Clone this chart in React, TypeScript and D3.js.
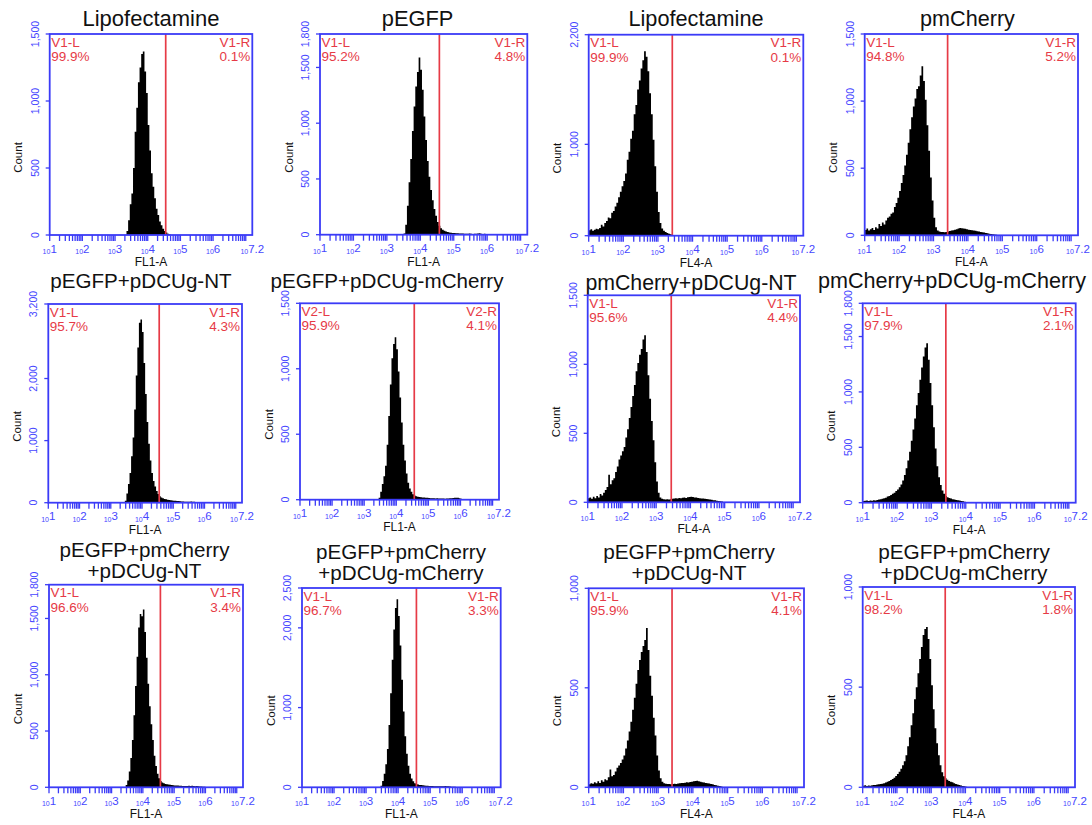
import React from "react";
import * as d3 from "d3";

// histogram bin width, in decades
const BIN = 0.05;

const titles = [
  "Lipofectamine",
  "pEGFP",
  "Lipofectamine",
  "pmCherry",
  "pEGFP+pDCUg-NT",
  "pEGFP+pDCUg-mCherry",
  "pmCherry+pDCUg-NT",
  "pmCherry+pDCUg-mCherry",
  "pEGFP+pmCherry\n+pDCUg-NT",
  "pEGFP+pmCherry\n+pDCUg-mCherry",
  "pEGFP+pmCherry\n+pDCUg-NT",
  "pEGFP+pmCherry\n+pDCUg-mCherry",
];
const channels = ["FL1-A", "FL1-A", "FL4-A", "FL4-A", "FL1-A", "FL1-A", "FL4-A", "FL4-A", "FL1-A", "FL1-A", "FL4-A", "FL4-A"];
const gateNames = ["V1", "V1", "V1", "V1", "V1", "V2", "V1", "V1", "V1", "V1", "V1", "V1"];
const leftPct = ["99.9%", "95.2%", "99.9%", "94.8%", "95.7%", "95.9%", "95.6%", "97.9%", "96.6%", "96.7%", "95.9%", "98.2%"];
const rightPct = ["0.1%", "4.8%", "0.1%", "5.2%", "4.3%", "4.1%", "4.4%", "2.1%", "3.4%", "3.3%", "4.1%", "1.8%"];
const gateExp = [4.55, 4.57, 3.415, 3.41, 4.55, 4.56, 3.44, 3.42, 4.56, 4.57, 3.4, 3.41];
const yTicks = [
  [0, 500, 1000, 1500],
  [0, 500, 1000, 1500, 1800],
  [0, 1000, 2200],
  [0, 500, 1000, 1500],
  [0, 1000, 2000, 3200],
  [0, 500, 1000, 1500],
  [0, 500, 1000, 1500],
  [0, 500, 1000, 1500, 1800],
  [0, 500, 1000, 1500, 1800],
  [0, 1000, 2000, 2500],
  [0, 500, 1000],
  [0, 500, 1000],
];
const xTickExp = ["1", "2", "3", "4", "5", "6", "7.2"];
const xTickVal = [1e1, 1e2, 1e3, 1e4, 1e5, 1e6, Math.pow(10, 7.2)];

// first bin (log10) of each histogram
const startExp = [3.35, 3.5, 1.0, 1.0, 3.45, 3.45, 1.0, 1.0, 3.45, 3.45, 1.0, 1.0];

const counts1 = [30, 110, 230, 310, 500, 770, 950, 1140, 1250, 1350, 1370, 1220, 1060, 820, 630, 460, 360, 275, 195, 150, 100, 72, 46, 30, 18, 10, 5];
const counts2 = [10, 90, 260, 470, 680, 930, 1150, 1330, 1460, 1590, 1480, 1300, 1060, 850, 660, 520, 400, 310, 230, 170, 115, 80, 58, 45, 35, 28, 24, 20, 18, 16, 15, 14, 12, 11, 10, 10, 9, 8, 9, 10, 8, 7, 9, 8, 10, 12, 9, 7, 8, 6, 4, 2];
const counts3 = [60, 70, 55, 65, 75, 70, 85, 120, 100, 140, 160, 200, 190, 250, 270, 320, 360, 420, 480, 540, 600, 680, 830, 920, 1060, 1150, 1330, 1430, 1600, 1700, 1830, 1920, 2020, 1960, 1800, 1560, 1330, 1050, 760, 480, 260, 140, 80, 55, 40, 30, 20, 15, 8];
const counts4 = [40, 50, 35, 45, 55, 40, 60, 50, 85, 70, 95, 80, 110, 130, 140, 160, 170, 210, 240, 280, 330, 390, 450, 520, 600, 690, 790, 880, 960, 1020, 1090, 1110, 1190, 1260, 1150, 1010, 820, 630, 430, 260, 130, 60, 35, 28, 25, 24, 22, 25, 28, 32, 35, 38, 42, 45, 50, 55, 52, 50, 48, 45, 42, 40, 38, 35, 33, 30, 28, 25, 22, 20, 18, 15, 12, 10, 8, 6, 4, 2];
const counts5 = [30, 150, 300, 480, 750, 1050, 1500, 2050, 2500, 2900, 2950, 2750, 2250, 1750, 1300, 950, 680, 480, 350, 260, 190, 140, 105, 85, 70, 60, 55, 48, 42, 40, 35, 32, 30, 28, 26, 24, 20, 18, 16, 15, 14, 16, 18, 15, 14, 12, 10, 12, 9, 8, 7, 8, 5, 4, 2];
const counts6 = [15, 60, 120, 180, 260, 420, 640, 880, 1080, 1190, 1240, 1150, 980, 780, 590, 420, 300, 200, 130, 85, 60, 42, 32, 26, 22, 20, 18, 17, 16, 15, 14, 13, 12, 12, 11, 10, 11, 10, 9, 10, 9, 8, 9, 10, 11, 12, 13, 14, 15, 14, 12, 8, 4, 2];
const counts7 = [30, 35, 25, 40, 30, 45, 35, 60, 50, 70, 90, 110, 200, 130, 160, 175, 220, 260, 310, 340, 370, 400, 470, 530, 610, 690, 770, 850, 950, 1010, 1070, 1110, 1180, 1210, 1090, 920, 750, 590, 450, 290, 150, 70, 35, 25, 22, 20, 22, 20, 22, 25, 28, 30, 28, 32, 30, 33, 35, 32, 36, 38, 40, 38, 35, 34, 32, 30, 28, 27, 25, 24, 22, 20, 18, 15, 14, 12, 10, 8, 5, 2];
const counts8 = [15, 18, 20, 16, 20, 18, 22, 20, 25, 28, 32, 35, 40, 45, 55, 60, 70, 80, 90, 105, 120, 140, 165, 200, 250, 310, 380, 460, 560, 660, 760, 880, 990, 1110, 1220, 1320, 1400, 1440, 1290, 1080, 880, 680, 490, 330, 230, 160, 110, 80, 60, 50, 42, 38, 32, 28, 25, 22, 20, 16, 12, 8, 5, 3, 1];
const counts9 = [20, 60, 140, 260, 420, 640, 900, 1160, 1420, 1540, 1520, 1580, 1380, 1150, 920, 720, 560, 420, 280, 190, 120, 80, 55, 42, 35, 30, 28, 25, 22, 20, 18, 17, 16, 15, 14, 13, 12, 12, 11, 12, 13, 12, 14, 12, 10, 11, 9, 8, 7, 6, 4, 3, 1];
const counts10 = [20, 80, 170, 290, 480, 780, 1180, 1600, 1980, 2250, 2360, 2150, 1780, 1350, 950, 640, 420, 270, 170, 110, 75, 52, 40, 34, 30, 28, 25, 22, 20, 19, 17, 16, 15, 14, 13, 12, 13, 14, 12, 13, 15, 14, 12, 10, 8, 7, 6, 5, 4, 3, 2, 2, 1];
const counts11 = [15, 20, 18, 25, 20, 30, 22, 35, 28, 40, 35, 50, 90, 55, 62, 80, 98, 110, 122, 140, 160, 195, 235, 280, 330, 390, 450, 520, 590, 640, 680, 710, 740, 800, 690, 560, 460, 350, 260, 160, 85, 45, 28, 20, 18, 16, 17, 15, 16, 18, 17, 19, 20, 22, 21, 23, 25, 24, 27, 28, 30, 32, 33, 30, 28, 26, 24, 22, 20, 19, 17, 15, 12, 10, 8, 6, 4, 2];
const counts12 = [8, 10, 7, 9, 8, 10, 12, 11, 14, 15, 17, 18, 20, 24, 28, 32, 36, 42, 48, 56, 66, 78, 92, 110, 130, 160, 205, 250, 310, 370, 440, 500, 570, 640, 700, 760, 790, 800, 740, 640, 510, 390, 295, 220, 160, 110, 75, 55, 45, 38, 32, 28, 25, 20, 17, 14, 12, 9, 7, 5, 3, 2];

const allCounts = [counts1, counts2, counts3, counts4, counts5, counts6, counts7, counts8, counts9, counts10, counts11, counts12];

// panel boxes: [left, right, top, bottom, titleX, titleBaseline, titleSize]
const layout = [
  [49.7, 252.3, 34, 235, 151, 26, 22],
  [320, 527.3, 34, 234.7, 417.5, 26, 21.8],
  [588.7, 803.3, 34.7, 235.7, 696, 26, 21.7],
  [864.7, 1078, 34, 235.3, 967.5, 26, 21.6],
  [48.3, 242, 304, 502.7, 141, 288, 20.6],
  [300, 499, 303.3, 499.7, 387, 288, 20.6],
  [587.7, 800, 295.3, 502.3, 691, 290, 21.3],
  [862.7, 1075.7, 303.3, 502.7, 952, 288, 21.6],
  [49, 243, 584.7, 787.3, 144.5, 578, 20.6],
  [302, 500.7, 588, 787.3, 401, 580, 20.6],
  [588.7, 804, 588.3, 787.3, 689, 580, 20.8],
  [862.7, 1075, 587, 787.3, 964, 580, 20.8],
];

const BLUE = "#3b3bf7";
const BLUE_TEXT = "#4646ff";
const RED = "#e63a46";
const FONT = "'Liberation Sans', Arial, sans-serif";

const minorTicks: number[] = [];
for (let d = 1; d <= 6; d++) for (let m = 1; m <= 9; m++) minorTicks.push(m * Math.pow(10, d));
minorTicks.push(1e7);

function Panel({ i }: { i: number }) {
  const [x0, x1, y0, y1, tx, ty, ts] = layout[i];
  const ticks = yTicks[i];
  const yMax = ticks[ticks.length - 1];
  const x = d3.scaleLog().domain([10, Math.pow(10, 7.2)]).range([x0, x1]);
  const y = d3.scaleLinear().domain([0, yMax]).range([y1, y0]);

  const counts = allCounts[i];
  const pts: [number, number][] = counts.map((c, k) => [Math.pow(10, startExp[i] + k * BIN), c]);
  pts.push([Math.pow(10, startExp[i] + counts.length * BIN), 0]);
  const area = d3
    .area<[number, number]>()
    .x((d) => x(d[0]))
    .y0(y(0))
    .y1((d) => y(d[1]))
    .curve(d3.curveStepAfter);

  const titleLines = titles[i].split("\n");
  const gx = x(Math.pow(10, gateExp[i]));
  const fmt = d3.format(",");

  return (
    <g fontFamily={FONT}>
      {titleLines.map((t, k) => (
        <text key={k} x={tx} y={ty - (titleLines.length - 1 - k) * 21.5} textAnchor="middle" fontSize={ts} fill="#111">
          {t}
        </text>
      ))}
      <path d={area(pts) || ""} fill="#000" />
      <line x1={gx} x2={gx} y1={y0} y2={y1} stroke={RED} strokeWidth={1.7} />
      <rect x={x0} y={y0} width={x1 - x0} height={y1 - y0} fill="none" stroke={BLUE} strokeWidth={1.8} />
      {minorTicks.map((v) => (
        <line key={v} x1={x(v)} x2={x(v)} y1={y1} y2={y1 + 6} stroke={BLUE} strokeWidth={1.3} />
      ))}
      {xTickVal.map((v, k) => (
        <text key={k} x={x(v)} y={y1 + 19} textAnchor="middle" fill={BLUE_TEXT}>
          <tspan fontSize={7}>10</tspan>
          <tspan fontSize={11.5} dy={-1.5}>{xTickExp[k]}</tspan>
        </text>
      ))}
      {ticks.map((v) => (
        <g key={v}>
          <line x1={x0 - 4} x2={x0} y1={y(v)} y2={y(v)} stroke={BLUE} strokeWidth={1.3} />
          <text transform={`translate(${x0 - 11},${y(v)}) rotate(-90)`} textAnchor="middle" fontSize={10.5} fill={BLUE_TEXT}>
            {fmt(v)}
          </text>
        </g>
      ))}
      <text transform={`translate(${x0 - 27.5},${(y0 + y1) / 2 + 23}) rotate(-90)`} textAnchor="middle" fontSize={11.5} fill="#111">
        Count
      </text>
      <text x={(x0 + x1) / 2} y={y1 + 31} textAnchor="middle" fontSize={12} fill="#111">
        {channels[i]}
      </text>
      <g fontSize={13.5} fill={RED}>
        <text x={x0 + 1.5} y={y0 + 12.5}>{gateNames[i]}-L</text>
        <text x={x0 + 1.5} y={y0 + 27}>{leftPct[i]}</text>
        <text x={x1 - 2} y={y0 + 12.5} textAnchor="end">{gateNames[i]}-R</text>
        <text x={x1 - 2} y={y0 + 27} textAnchor="end">{rightPct[i]}</text>
      </g>
    </g>
  );
}

export default function App() {
  return (
    <div style={{ position: "absolute", left: 0, top: 0 }}>
      <svg width={1092} height={825} style={{ display: "block", background: "#fff" }}>
        {titles.map((_, i) => (
          <Panel key={i} i={i} />
        ))}
      </svg>
    </div>
  );
}
